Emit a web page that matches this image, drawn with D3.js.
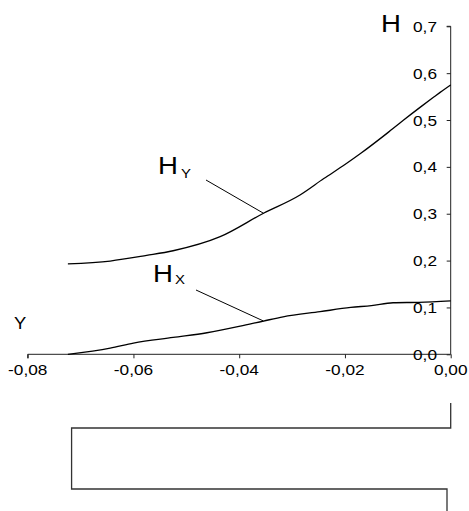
<!DOCTYPE html>
<html>
<head>
<meta charset="utf-8">
<script src="https://cdn.jsdelivr.net/npm/d3@7"></script>
<style>
  body { margin: 0; background: #fff; }
  text { font-family: "Liberation Sans", Arial, sans-serif; fill: #000; }
</style>
</head>
<body>
<script>
// values
var hyX = [-0.0724, -0.0644, -0.0575, -0.0525, -0.0436, -0.0354, -0.0285, -0.024, -0.020, -0.017, -0.012, -0.0089, -0.0058, -0.0032, -0.0020, 0.0]
var hyY = [0.193, 0.199, 0.211, 0.221, 0.251, 0.301, 0.340, 0.375, 0.405, 0.429, 0.472, 0.500, 0.527, 0.549, 0.559, 0.575]

var hxX = [-0.0724, -0.0644, -0.0600, -0.0525, -0.0461, -0.0398, -0.0354, -0.0317, -0.0247, -0.0189, -0.0150, -0.0109, -0.0060, 0.0]
var hxY = [0.0, 0.013, 0.024, 0.036, 0.046, 0.060, 0.071, 0.080, 0.091, 0.100, 0.104, 0.110, 0.111, 0.114]

var xTicks = [-0.08, -0.06, -0.04, -0.02, 0.00]
var yTicks = [0.0, 0.1, 0.2, 0.3, 0.4, 0.5, 0.6, 0.7]

var w = 469, h = 511
var svg = d3.select("body").append("svg").attr("width", w).attr("height", h)

var x = d3.scaleLinear().domain([-0.08, 0]).range([27.7, 450.7])
var y = d3.scaleLinear().domain([0, 0.7]).range([354.3, 26.3])

var comma = function(d, n){ return d3.format("." + n + "f")(d).replace(".", ",").replace("−", "-") }

// text is drawn a bit wider than normal in the original
var sx = 1.15
function label(px, py, str, size, anchor){
  svg.append("text")
    .attr("transform", `translate(${px}, ${py}) scale(${sx}, 1)`)
    .attr("text-anchor", anchor || "start")
    .attr("font-size", size)
    .text(str)
}

//x-Axis
var xAxis = svg.append("g").attr("transform", `translate(0, ${y(0)})`)
  .call(d3.axisBottom(x).tickValues(xTicks).tickSize(4).tickFormat(""))
xAxis.select(".domain").attr("d", `M${x(-0.08)},4V0H${x(0)}`)
xTicks.forEach(function(t){ label(x(t), 375, comma(t, 2), 15, "middle") })

//y-Axis
var yAxis = svg.append("g").attr("transform", `translate(${x(0)}, 0)`)
  .call(d3.axisLeft(y).tickValues(yTicks).tickSize(4).tickFormat(""))
yAxis.select(".domain").attr("d", `M-4,${y(0.7)}H0V${y(0)}`)
svg.selectAll(".domain, .tick line").attr("stroke", "#222")
yTicks.forEach(function(t){ label(437, y(t) + 5.5, comma(t, 1), 15, "end") })

// curves
var line = d3.line().x(function(d){ return x(d[0]) }).y(function(d){ return y(d[1]) }).curve(d3.curveMonotoneX)
svg.append("path").datum(d3.zip(hyX, hyY)).attr("d", line)
  .attr("fill", "none").attr("stroke", "#000").attr("stroke-width", 1.3)
svg.append("path").datum(d3.zip(hxX, hxY)).attr("d", line)
  .attr("fill", "none").attr("stroke", "#000").attr("stroke-width", 1.3)

// labels and leader lines
label(381, 32, "H", 24)
label(14, 329, "Y", 16)

label(158, 173.5, "H", 24)
label(181, 177.5, "Y", 13)
svg.append("line").attr("x1", 206).attr("y1", 180).attr("x2", x(-0.0354)).attr("y2", y(0.301))
  .attr("stroke", "#000").attr("stroke-width", 1)

label(153, 281.5, "H", 24)
label(175, 283.5, "X", 13)
svg.append("line").attr("x1", 196).attr("y1", 290).attr("x2", x(-0.0354)).attr("y2", y(0.071))
  .attr("stroke", "#000").attr("stroke-width", 1)

// bracket under the plot
var bx0 = x(-0.0717), bx1 = x(0), bx2 = x(-0.0007)
svg.append("path")
  .attr("d", `M${bx1},403V428H${bx0}V489H${bx2}V511`)
  .attr("fill", "none").attr("stroke", "#333").attr("stroke-width", 1.3)
</script>
</body>
</html>
